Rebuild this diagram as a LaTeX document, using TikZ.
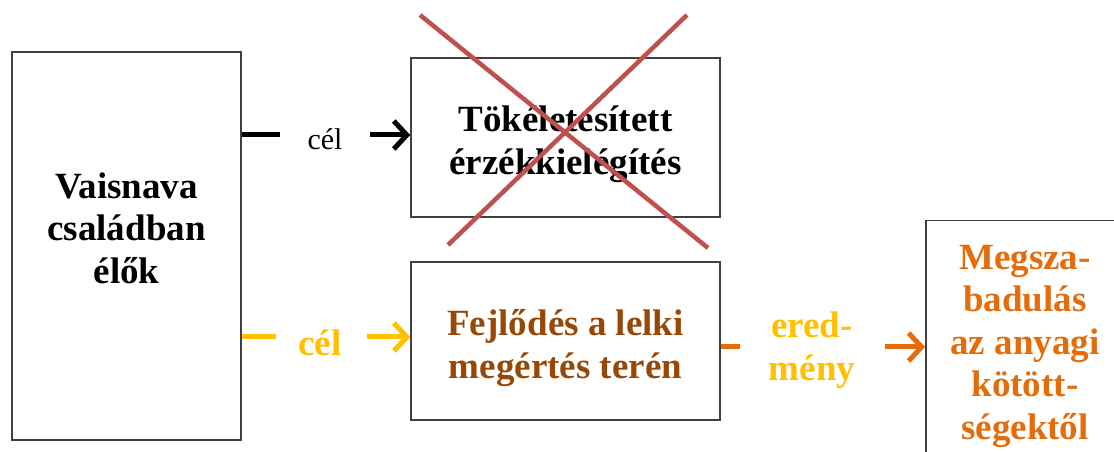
\documentclass[tikz,border=0pt]{standalone}
\usepackage{fontspec}
\setmainfont{Liberation Serif}
\usetikzlibrary{arrows.meta}
\definecolor{boxgray}{HTML}{404040}
\definecolor{crossred}{HTML}{C0504D}
\definecolor{goldy}{HTML}{FFC000}
\definecolor{brownt}{HTML}{984806}
\definecolor{orangea}{HTML}{E46C0A}
\tikzset{
  box/.style={draw=boxgray, line width=1.5pt, inner sep=0pt},
  conn/.style={line width=5pt},
  arr/.style={line width=5pt, -{Straight Barb[length=13pt,width=28pt,line width=5pt]}},
  lbl/.style={font=\fontsize{37}{42.5}\selectfont\bfseries, align=center, inner sep=0pt},
}
\begin{document}
\begin{tikzpicture}[x=1pt,y=1pt]
\useasboundingbox (0,0) rectangle (1114,452);
\fill[white] (0,0) rectangle (1114,452);
\begin{scope}
\clip (0,0) rectangle (1114,452);
% boxes
\node[box, minimum width=229pt, minimum height=388pt] (left) at (126.5,206) {};
\node[lbl] (lefttext) at (126.5,224) {Vaisnava\\családban\\élők};
\node[box, minimum width=309pt, minimum height=159pt] (top) at (565.5,314.5) {};
\node[lbl] (toptext) at (565.5,308) {Tökéletesített\\érzékkielégítés};
\node[box, minimum width=309pt, minimum height=158pt] (bot) at (565.5,111) {};
\node[lbl, text=brownt] (bottext) at (565.5,104) {Fejlődés a lelki\\megértés terén};
\node[box, minimum width=205pt, minimum height=300pt, anchor=north west] (right) at (925,232) {};
\node[lbl, text=orangea] (rtext) at (1025,106) {Megsza-\\badulás\\az anyagi\\kötött-\\ségektől};
% cross
\coordinate (c1) at (420,437);
\coordinate (c2) at (708,204);
\coordinate (c3) at (687,437);
\coordinate (c4) at (448,207);
\draw[crossred, line width=4.5pt] (c1) -- (c2);
\draw[crossred, line width=4.5pt] (c3) -- (c4);
% top connector
\coordinate (t1) at (280,317);
\coordinate (t2) at (370,317);
\draw[conn] (left.east |- t1) -- (t1);
\node[font=\fontsize{30}{36}\selectfont, inner sep=0pt] (tl) at (325,313) {cél};
\draw[arr] (t2) -- (top.west |- t2);
% bottom connector
\coordinate (b1) at (276,115);
\coordinate (b2) at (367,115);
\draw[conn, goldy] (left.east |- b1) -- (b1);
\node[lbl, text=goldy] (bl) at (320,109) {cél};
\draw[arr, goldy] (b2) -- (bot.west |- b2);
% orange connector
\coordinate (o1) at (740,105);
\coordinate (o2) at (885,105);
\draw[conn, orangea] (bot.east |- o1) -- (o1);
\node[lbl, text=goldy] (ol) at (812,102) {ered-\\mény};
\draw[arr, orangea] (o2) -- (right.west |- o2);
\end{scope}
\end{tikzpicture}
\end{document}
